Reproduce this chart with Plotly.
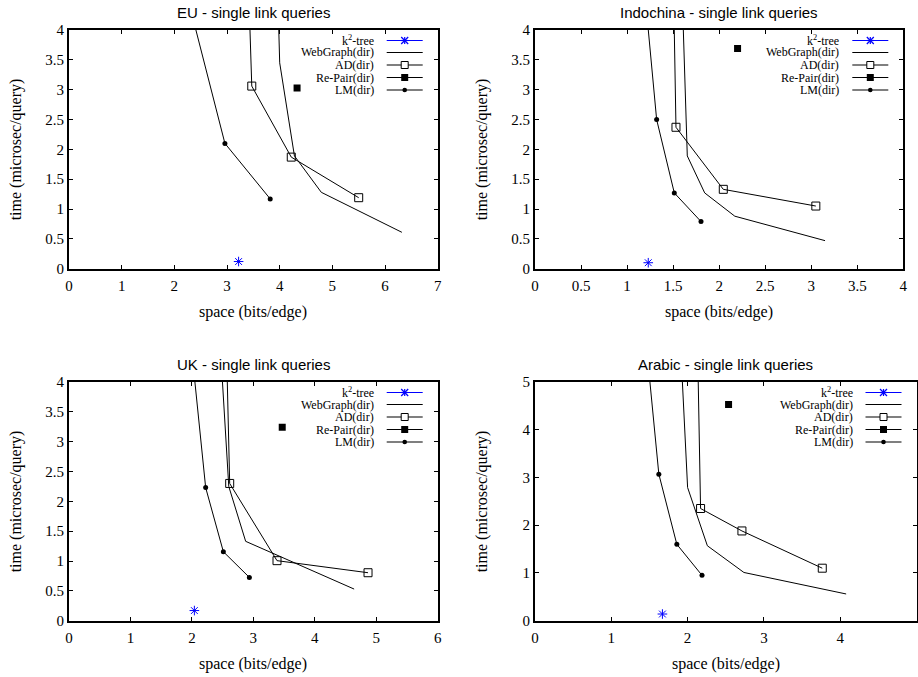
import plotly.graph_objects as go

W, H = 918, 677

# ---------------- data (space bits/edge, time microsec/query) ----------------
# EU
eu_k2_x = [3.22]
eu_k2_y = [0.12]
eu_wg_x = [3.92, 4.00, 4.28, 4.79, 6.32]
eu_wg_y = [6.0, 3.45, 1.89, 1.28, 0.61]
eu_ad_x = [3.40, 3.47, 4.22, 5.50]
eu_ad_y = [5.0, 3.06, 1.87, 1.19]
eu_rp_x = [4.33]
eu_rp_y = [3.03]
eu_lm_x = [2.25, 2.96, 3.82]
eu_lm_y = [4.55, 2.10, 1.17]

# Indochina
in_k2_x = [1.23]
in_k2_y = [0.10]
in_wg_x = [1.57, 1.654, 1.843, 2.17, 3.15]
in_wg_y = [6.0, 1.89, 1.27, 0.88, 0.47]
in_ad_x = [1.49, 1.531, 2.045, 3.05]
in_ad_y = [6.0, 2.37, 1.33, 1.05]
in_rp_x = [2.20]
in_rp_y = [3.69]
in_lm_x = [1.17, 1.321, 1.513, 1.803]
in_lm_y = [5.0, 2.50, 1.27, 0.79]

# UK
uk_k2_x = [2.04]
uk_k2_y = [0.17]
uk_wg_x = [2.38, 2.60, 2.875, 4.64]
uk_wg_y = [6.0, 2.25, 1.33, 0.53]
uk_ad_x = [2.53, 2.615, 3.385, 4.866]
uk_ad_y = [6.0, 2.30, 1.006, 0.804]
uk_rp_x = [3.47]
uk_rp_y = [3.24]
uk_lm_x = [1.95, 2.224, 2.512, 2.935]
uk_lm_y = [5.0, 2.23, 1.156, 0.726]

# Arabic
ar_k2_x = [1.67]
ar_k2_y = [0.14]
ar_wg_x = [1.87, 2.0, 2.259, 2.738, 4.078]
ar_wg_y = [7.0, 2.79, 1.57, 1.01, 0.56]
ar_ad_x = [2.116, 2.17, 2.712, 3.765]
ar_ad_y = [7.0, 2.35, 1.88, 1.10]
ar_rp_x = [2.537]
ar_rp_y = [4.53]
ar_lm_x = [1.385, 1.623, 1.859, 2.189]
ar_lm_y = [7.0, 3.07, 1.60, 0.95]

titles = ["EU - single link queries", "Indochina - single link queries",
          "UK - single link queries", "Arabic - single link queries"]
x_max = [7, 4, 6, 5]
x_dtick = [1, 0.5, 1, 1]
y_max = [4, 4, 4, 5]
y_dtick = [0.5, 0.5, 0.5, 1]
legend_names = ["k<sup>2</sup>-tree", "WebGraph(dir)", "AD(dir)", "Re-Pair(dir)", "LM(dir)"]
x_label = "space (bits/edge)"
y_label = "time (microsec/query)"

series = [
    [(eu_k2_x, eu_k2_y), (eu_wg_x, eu_wg_y), (eu_ad_x, eu_ad_y), (eu_rp_x, eu_rp_y), (eu_lm_x, eu_lm_y)],
    [(in_k2_x, in_k2_y), (in_wg_x, in_wg_y), (in_ad_x, in_ad_y), (in_rp_x, in_rp_y), (in_lm_x, in_lm_y)],
    [(uk_k2_x, uk_k2_y), (uk_wg_x, uk_wg_y), (uk_ad_x, uk_ad_y), (uk_rp_x, uk_rp_y), (uk_lm_x, uk_lm_y)],
    [(ar_k2_x, ar_k2_y), (ar_wg_x, ar_wg_y), (ar_ad_x, ar_ad_y), (ar_rp_x, ar_rp_y), (ar_lm_x, ar_lm_y)],
]

# plot areas in screen pixels: left, right, top, bottom
boxes = [(69, 437.7, 30, 268.7), (535, 903.3, 30, 268.7),
         (69, 437.7, 382, 620.7), (535, 916.5, 382, 620.7)]

SERIF = "Liberation Serif, Times New Roman, serif"
SANS = "Liberation Sans, Arial, sans-serif"
BLUE = "#0000ff"


def px(xp):
    return xp / W


def py(yp):
    return 1 - yp / H


fig = go.Figure()
annotations = []
shapes = []
layout_axes = {}

for i in range(4):
    n = "" if i == 0 else str(i + 1)
    xa, ya = "x" + n, "y" + n
    L, R, T, B = boxes[i]
    (k2, wg, ad, rp, lm) = series[i]

    fig.add_trace(go.Scatter(x=wg[0], y=wg[1], xaxis=xa, yaxis=ya, mode="lines",
                             line=dict(color="black", width=1), showlegend=False))
    fig.add_trace(go.Scatter(x=ad[0], y=ad[1], xaxis=xa, yaxis=ya, mode="lines+markers",
                             line=dict(color="black", width=1),
                             marker=dict(symbol="square-open", size=8, color="black",
                                         line=dict(width=1, color="black")),
                             showlegend=False))
    fig.add_trace(go.Scatter(x=lm[0], y=lm[1], xaxis=xa, yaxis=ya, mode="lines+markers",
                             line=dict(color="black", width=1),
                             marker=dict(symbol="circle", size=5, color="black"),
                             showlegend=False))
    fig.add_trace(go.Scatter(x=rp[0], y=rp[1], xaxis=xa, yaxis=ya, mode="markers",
                             marker=dict(symbol="square", size=7, color="black"),
                             showlegend=False))
    fig.add_trace(go.Scatter(x=k2[0], y=k2[1], xaxis=xa, yaxis=ya, mode="markers",
                             marker=dict(symbol="asterisk", size=8, color=BLUE,
                                         line=dict(width=1, color=BLUE)),
                             showlegend=False))

    common = dict(showline=True, linecolor="black", linewidth=2, mirror="ticks",
                  ticks="inside", ticklen=4, tickwidth=1, tickcolor="black",
                  showgrid=False, zeroline=False, tickmode="linear", tick0=0,
                  automargin=False,
                  tickfont=dict(family=SERIF, size=15, color="black"))
    layout_axes["xaxis" + n] = dict(domain=[px(L), px(R)], anchor=ya, range=[0, x_max[i]],
                                    dtick=x_dtick[i], ticklabelstandoff=2, **common)
    layout_axes["yaxis" + n] = dict(domain=[py(B), py(T)], anchor=xa, range=[0, y_max[i]],
                                    dtick=y_dtick[i], **common)

    # title
    annotations.append(dict(text=titles[i], x=px((L + R) / 2), y=py(T - 18), xref="paper",
                            yref="paper", showarrow=False, xanchor="center", yanchor="middle",
                            font=dict(family=SANS, size=15, color="black")))
    # axis labels
    annotations.append(dict(text=x_label, x=px((L + R) / 2), y=py(B + 43), xref="paper",
                            yref="paper", showarrow=False, xanchor="center", yanchor="middle",
                            font=dict(family=SERIF, size=16, color="black")))
    annotations.append(dict(text=y_label, x=px(L - 53), y=py((T + B) / 2), xref="paper",
                            yref="paper", showarrow=False, xanchor="center", yanchor="middle",
                            textangle=-90, font=dict(family=SERIF, size=16, color="black")))

    # legend (gnuplot style: right-aligned text, sample on the right)
    rows = [10.5, 22.5, 35, 47.5, 60]
    tx = R - 62
    lx0, lx1 = R - 51, R - 15
    mx = (lx0 + lx1) / 2
    for j, name in enumerate(legend_names):
        yy = T + rows[j]
        annotations.append(dict(text=name, x=px(tx), y=py(yy), xref="paper", yref="paper",
                                showarrow=False, xanchor="right", yanchor="middle",
                                font=dict(family=SERIF, size=12, color="black")))
        col = BLUE if j == 0 else "black"
        shapes.append(dict(type="line", xref="paper", yref="paper", x0=px(lx0), x1=px(lx1),
                           y0=py(yy), y1=py(yy), line=dict(color=col, width=1.2)))
        if j == 0:
            s = 3.5
            for dx, dy in [(s, 0), (0, s), (s, s), (s, -s)]:
                shapes.append(dict(type="line", xref="paper", yref="paper",
                                   x0=px(mx - dx), x1=px(mx + dx), y0=py(yy - dy), y1=py(yy + dy),
                                   line=dict(color=BLUE, width=1.2)))
        elif j == 2:
            shapes.append(dict(type="rect", xref="paper", yref="paper",
                               x0=px(mx - 3.5), x1=px(mx + 3.5), y0=py(yy - 3.5), y1=py(yy + 3.5),
                               line=dict(color="black", width=1), fillcolor="white"))
        elif j == 3:
            shapes.append(dict(type="rect", xref="paper", yref="paper",
                               x0=px(mx - 3.5), x1=px(mx + 3.5), y0=py(yy - 3.5), y1=py(yy + 3.5),
                               line=dict(color="black", width=0), fillcolor="black"))
        elif j == 4:
            shapes.append(dict(type="circle", xref="paper", yref="paper",
                               x0=px(mx - 2.3), x1=px(mx + 2.3), y0=py(yy - 2.3), y1=py(yy + 2.3),
                               line=dict(color="black", width=0), fillcolor="black"))

fig.update_layout(width=W, height=H, margin=dict(l=0, r=0, t=0, b=0),
                  paper_bgcolor="white", plot_bgcolor="white", showlegend=False,
                  hovermode=False,
                  annotations=annotations, shapes=shapes, **layout_axes)

# remove the default 8px page margin so the figure fills the window exactly
fig.write_html("out.html", config={"displayModeBar": False},
               post_script="document.body.style.margin='0px';document.body.style.overflow='hidden';")
